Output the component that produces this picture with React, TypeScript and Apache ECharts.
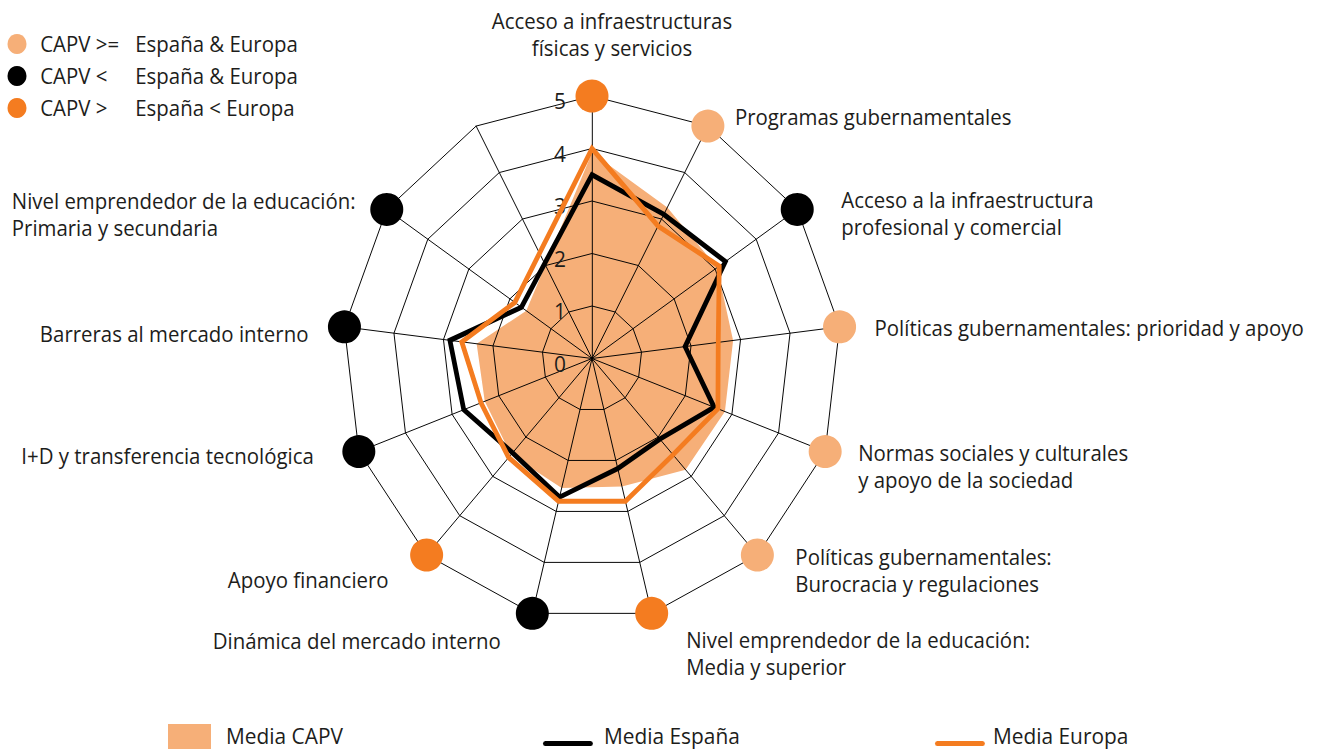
import React, { useEffect, useRef } from 'react';
import * as echarts from 'echarts';

// ---------- data ----------
const categories = [
  'Acceso a infraestructuras\nfísicas y servicios',
  'Programas gubernamentales',
  'Acceso a la infraestructura\nprofesional y comercial',
  'Políticas gubernamentales: prioridad y apoyo',
  'Normas sociales y culturales\ny apoyo de la sociedad',
  'Políticas gubernamentales:\nBurocracia y regulaciones',
  'Nivel emprendedor de la educación:\nMedia y superior',
  'Dinámica del mercado interno',
  'Apoyo financiero',
  'I+D y transferencia tecnológica',
  'Barreras al mercado interno',
  'Nivel emprendedor de la educación:\nPrimaria y secundaria',
];
const capv = [3.92, 3.25, 3.05, 2.85, 2.85, 2.83, 2.51, 2.54, 2.45, 2.3, 2.33, 1.6];
const espana = [3.5, 3.1, 3.25, 1.88, 2.62, 2.05, 2.16, 2.72, 2.4, 2.75, 2.87, 1.72];
const europa = [4.0, 2.85, 3.1, 2.55, 2.7, 2.45, 2.8, 2.8, 2.52, 2.38, 2.63, 1.88];
// comparison group of each category (index into groupNames)
const dotGroup = [2, 0, 1, 0, 0, 0, 2, 1, 2, 1, 1, 1];
const groupNames = ['CAPV >= España & Europa', 'CAPV < España & Europa', 'CAPV > España < Europa'];
const seriesNames = ['Media CAPV', 'Media España', 'Media Europa'];
const tickMax = 5;
const spokeCount = 13; // 12 categories + one unlabeled spoke

// ---------- layout / style ----------
const W = 1319;
const H = 749;
const S = 0.95; // horizontal compression of the original drawing
const ux = (x: number) => x / S;
const CX = 592;
const CY = 358.5;
const R = 262.5;
const FONT = "'Open Sans', 'Noto Sans', sans-serif";
const TXT = '#1d1d1b';
const LIGHT = '#F6AF78';
const ORANGE = '#F47C20';
const BLACK = '#000000';
const dotColors = [LIGHT, BLACK, ORANGE];

// label anchor relative to dot center, in page px: [align, dx, dy]
const labelPlace: [string, number, number][] = [
  ['center', 20, -62],
  ['left', 27, -9],
  ['left', 44, 4],
  ['left', 35, 1],
  ['left', 33, 15],
  ['left', 38, 15],
  ['left', 34.5, 39.5],
  ['right', -31.5, 27.5],
  ['right', -38, 25],
  ['right', -45, 4],
  ['right', -36, 6.5],
  ['left', -375, 4.5],
];

const angleOf = (i: number) => (i * 360) / spokeCount;

function closed(vals: number[], extra: boolean) {
  const pts = vals.map((v, i) => [v, angleOf(i)]);
  pts.push(pts[0]);
  if (extra) pts.push(pts[1]);
  return pts;
}

function buildOption(): any {
  const dotSeries = groupNames.map((g, gi) => ({
    type: 'scatter',
    coordinateSystem: 'polar',
    name: g,
    symbol: 'circle',
    symbolSize: [ux(33), 33],
    z: 4,
    silent: true,
    itemStyle: { color: dotColors[gi], opacity: 1 },
    label: {
      show: true,
      formatter: '{b}',
      fontFamily: FONT,
      fontSize: 21.5,
      lineHeight: 27,
      color: TXT,
    },
    data: categories
      .map((c, i) => ({ c, i }))
      .filter(({ i }) => dotGroup[i] === gi)
      .map(({ c, i }) => {
        const [align, dx, dy] = labelPlace[i];
        return {
          name: c,
          value: [tickMax, angleOf(i)],
          label: { position: 'inside', align, verticalAlign: 'middle', offset: [dx / S, dy] },
        };
      }),
  }));

  const lineIcon = 'path://M2.5,0L50,0A2.5,2.5,0,0,1,50,5L2.5,5A2.5,2.5,0,0,1,2.5,0Z';
  const legendText = { fontFamily: FONT, fontSize: 22, color: TXT, lineHeight: 22 };

  return {
    animation: false,
    backgroundColor: '#ffffff',
    textStyle: { fontFamily: FONT },
    radar: {
      center: [ux(CX), CY],
      radius: R,
      startAngle: 90,
      splitNumber: 5,
      shape: 'polygon',
      z: 2,
      indicator: categories.concat(['']).map(() => ({ name: '', min: 0, max: tickMax })),
      axisName: { show: false },
      axisLine: { lineStyle: { color: BLACK, width: 1 } },
      splitLine: { lineStyle: { color: BLACK, width: 1 } },
      splitArea: { show: false },
      axisTick: { show: false },
      axisLabel: { show: false },
    },
    polar: { center: [ux(CX), CY], radius: R },
    angleAxis: {
      type: 'value',
      min: 0,
      max: 360,
      startAngle: 90,
      clockwise: true,
      show: false,
    },
    radiusAxis: {
      type: 'value',
      min: 0,
      max: tickMax,
      interval: 1,
      z: 2,
      axisLine: { show: false },
      axisTick: { show: false },
      splitLine: { show: false },
      axisLabel: {
        show: true,
        margin: ux(26),
        formatter: '{n|{value}}',
        fontSize: 22,
        fontFamily: FONT,
        color: TXT,
        rich: {
          n: { fontSize: 22, fontFamily: FONT, color: TXT, lineHeight: 22, padding: [9, 0, 0, 0] },
        },
      },
    },
    legend: [
      {
        orient: 'vertical',
        left: ux(7.5),
        top: 33,
        padding: 0,
        itemGap: 10,
        itemWidth: 20,
        itemHeight: 20,
        icon: 'circle',
        selectedMode: false,
        data: groupNames,
        itemStyle: { borderWidth: 0, opacity: 1 },
        formatter: (name: string) => {
          const k = name.indexOf('España');
          return `{a|${name.slice(0, k).trim()}}{b|${name.slice(k)}}`;
        },
        textStyle: {
          fontFamily: FONT,
          fontSize: 21.5,
          color: TXT,
          lineHeight: 22,
          padding: [0, 0, 0, ux(9)],
          rich: {
            a: { width: ux(95), fontFamily: FONT, fontSize: 21.5, color: TXT, lineHeight: 22 },
            b: { fontFamily: FONT, fontSize: 21.5, color: TXT, lineHeight: 22 },
          },
        },
      },
      {
        left: ux(168),
        top: 724,
        padding: 0,
        itemWidth: ux(43),
        itemHeight: 25,
        icon: 'rect',
        selectedMode: false,
        data: [seriesNames[0]],
        itemStyle: { borderWidth: 0, opacity: 1 },
        formatter: '{t|{name}}',
        textStyle: {
          ...legendText,
          rich: { t: { ...legendText, lineHeight: 20, padding: [0, 0, 2, ux(15) - 5] } },
        },
      },
      {
        left: ux(543),
        top: 724.5,
        padding: 0,
        itemWidth: ux(50),
        itemHeight: 5,
        icon: lineIcon,
        selectedMode: false,
        data: [seriesNames[1]],
        itemStyle: { borderWidth: 0, opacity: 1 },
        formatter: '{t|{name}}',
        textStyle: {
          ...legendText,
          rich: { t: { ...legendText, padding: [0, 0, 16, ux(11) - 5] } },
        },
      },
      {
        left: ux(935),
        top: 724.5,
        padding: 0,
        itemWidth: ux(50),
        itemHeight: 5,
        icon: lineIcon,
        selectedMode: false,
        data: [seriesNames[2]],
        itemStyle: { borderWidth: 0, opacity: 1 },
        formatter: '{t|{name}}',
        textStyle: {
          ...legendText,
          rich: { t: { ...legendText, padding: [0, 0, 16, ux(8) - 5] } },
        },
      },
    ],
    series: [
      {
        type: 'line',
        coordinateSystem: 'polar',
        name: seriesNames[0],
        data: closed(capv, false),
        symbol: 'none',
        showSymbol: false,
        silent: true,
        z: 1,
        color: LIGHT,
        itemStyle: { color: LIGHT },
        lineStyle: { width: 0, opacity: 0 },
        areaStyle: { color: LIGHT, opacity: 1 },
      },
      {
        type: 'line',
        coordinateSystem: 'polar',
        name: seriesNames[1],
        data: closed(espana, true),
        symbol: 'none',
        showSymbol: false,
        silent: true,
        z: 3,
        color: BLACK,
        itemStyle: { color: BLACK },
        lineStyle: { color: BLACK, width: 5, join: 'miter' },
      },
      {
        type: 'line',
        coordinateSystem: 'polar',
        name: seriesNames[2],
        data: closed(europa, true),
        symbol: 'none',
        showSymbol: false,
        silent: true,
        z: 3,
        color: ORANGE,
        itemStyle: { color: ORANGE },
        lineStyle: { color: ORANGE, width: 5, join: 'miter' },
      },
      ...dotSeries,
    ],
  };
}

export default function App() {
  const ref = useRef<HTMLDivElement>(null);
  useEffect(() => {
    if (!ref.current) return;
    const chart = echarts.init(ref.current, undefined, { renderer: 'svg' });
    chart.setOption(buildOption());
    return () => chart.dispose();
  }, []);
  return (
    <div
      style={{
        position: 'fixed',
        left: 0,
        top: 0,
        width: W,
        height: H,
        overflow: 'hidden',
        background: '#ffffff',
      }}
    >
      <div
        ref={ref}
        style={{
          width: Math.ceil(W / S),
          height: H,
          transform: `scaleX(${S})`,
          transformOrigin: '0 0',
        }}
      />
    </div>
  );
}
